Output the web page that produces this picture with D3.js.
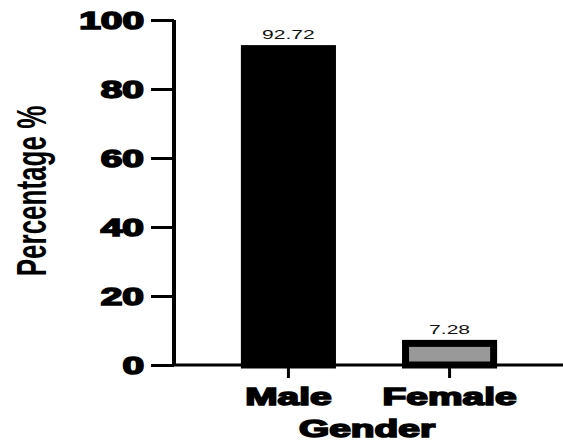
<!DOCTYPE html>
<html>
<head>
<meta charset="utf-8">
<script src="https://cdn.jsdelivr.net/npm/d3@7"></script>
<style>
  body { margin: 0; background: #fff; }
  text { font-family: "Liberation Sans", Arial, sans-serif; }
</style>
</head>
<body>
<div id="chart"></div>
<script>
const genders = ["Male", "Female"];
const percentages = [92.72, 7.28];
const barColors = ["#000000", "#999999"];
const yTicks = [0, 20, 40, 60, 80, 100];

const W = 563, H = 446;
const stretch = 1.62; // the whole picture is wide-stretched
const x0 = 174, yBase = 365, yTop = 20;
const heavy = 1.6; // extra stroke to get the black-weight look

const svg = d3.select("#chart").append("svg")
    .attr("width", W)
    .attr("height", H);

const y = d3.scaleLinear()
    .domain([0, 100])
    .range([yBase, yTop]);

const x = d3.scaleBand()
    .domain(genders)
    .range([x0, 564])
    .paddingInner(0.41)
    .paddingOuter(0.415);

// bars (black outline drawn inside the bar)
const sw = 7;
svg.selectAll(".bar")
    .data(genders)
    .enter().append("rect")
    .attr("class", "bar")
    .attr("x", d => x(d) + sw / 2)
    .attr("width", x.bandwidth() - sw)
    .attr("y", (d, i) => y(percentages[i]) + sw / 2)
    .attr("height", (d, i) => y(0) - y(percentages[i]) - sw / 2)
    .attr("fill", (d, i) => barColors[i])
    .attr("stroke", "#000")
    .attr("stroke-width", sw);

// value labels
svg.selectAll(".val")
    .data(genders)
    .enter().append("text")
    .attr("class", "val")
    .attr("transform", (d, i) => "translate(" + (x(d) + x.bandwidth() / 2) + "," + (y(percentages[i]) - 6) + ") scale(" + stretch + ",1)")
    .attr("text-anchor", "middle")
    .attr("font-size", 13)
    .attr("fill", "#111")
    .text((d, i) => percentages[i].toFixed(2));

// y axis
const yAxis = svg.append("g")
    .attr("transform", "translate(" + x0 + ",0)")
    .call(d3.axisLeft(y).tickValues(yTicks).tickSize(23).tickSizeOuter(0));
yAxis.select(".domain").attr("stroke-width", 4).attr("d", "M0," + yTop + "V" + yBase);
yAxis.selectAll(".tick line").attr("stroke-width", 3);
yAxis.selectAll(".tick text")
    .attr("x", null)
    .attr("dy", "0.35em")
    .attr("transform", "translate(-30,0) scale(" + stretch + ",1)")
    .attr("font-size", 24)
    .attr("font-weight", "bold")
    .attr("font-family", "Liberation Sans, Arial, sans-serif")
    .attr("fill", "#000")
    .attr("stroke", "#000")
    .attr("stroke-width", heavy);

// x axis
const xAxis = svg.append("g")
    .attr("transform", "translate(0," + yBase + ")")
    .call(d3.axisBottom(x).tickSize(13).tickSizeOuter(0));
xAxis.select(".domain").attr("stroke-width", 3).attr("d", "M" + x0 + ",0H" + W);
xAxis.selectAll(".tick line").attr("stroke-width", 3);
xAxis.selectAll(".tick text")
    .attr("y", null)
    .attr("dy", null)
    .attr("transform", "translate(0,40) scale(" + stretch + ",1)")
    .attr("font-size", 24)
    .attr("font-weight", "bold")
    .attr("font-family", "Liberation Sans, Arial, sans-serif")
    .attr("fill", "#000")
    .attr("stroke", "#000")
    .attr("stroke-width", heavy);

// axis titles
svg.append("text")
    .attr("transform", "translate(367,437) scale(" + stretch + ",1)")
    .attr("text-anchor", "middle")
    .attr("font-size", 24)
    .attr("font-weight", "bold")
    .attr("stroke", "#000")
    .attr("stroke-width", heavy)
    .text("Gender");

svg.append("text")
    .attr("transform", "translate(46,191) scale(" + stretch + ",1) rotate(-90)")
    .attr("text-anchor", "middle")
    .attr("font-size", 26)
    .attr("font-weight", "bold")
    .text("Percentage %");
</script>
</body>
</html>
